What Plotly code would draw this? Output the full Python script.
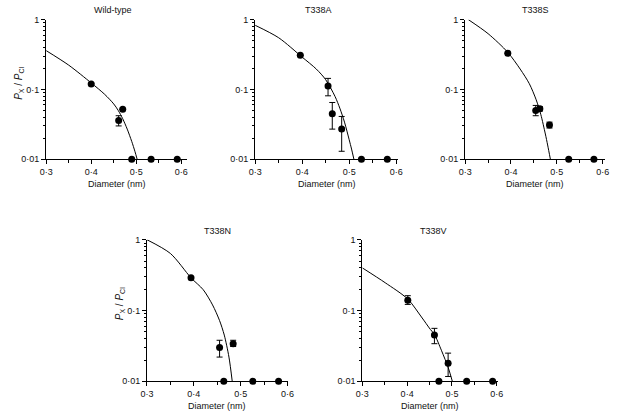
import plotly.graph_objects as go

# ---------------- data ----------------
titles = ["Wild-type", "T338A", "T338S", "T338N", "T338V"]

wt_x = [0.400, 0.461, 0.470, 0.490, 0.533, 0.591]
wt_y = [0.12, 0.036, 0.052, 0.01, 0.01, 0.01]
wt_ep = [0, 0.006, 0, 0, 0, 0]
wt_em = [0, 0.006, 0, 0, 0, 0]
wt_fit_x = [0.30, 0.35, 0.40, 0.43, 0.45, 0.46, 0.47, 0.48, 0.49, 0.497, 0.502]
wt_fit_y = [0.36, 0.223, 0.124, 0.085, 0.062, 0.050, 0.038, 0.027, 0.018, 0.013, 0.01]

a_x = [0.396, 0.455, 0.464, 0.484, 0.526, 0.581]
a_y = [0.31, 0.112, 0.045, 0.027, 0.01, 0.01]
a_ep = [0, 0.032, 0.020, 0.014, 0, 0]
a_em = [0, 0.031, 0.018, 0.014, 0, 0]
a_fit_x = [0.30, 0.35, 0.40, 0.43, 0.45, 0.47, 0.48, 0.49, 0.50, 0.505, 0.510]
a_fit_y = [0.83, 0.55, 0.29, 0.196, 0.138, 0.079, 0.054, 0.034, 0.019, 0.014, 0.01]

s_x = [0.393, 0.454, 0.463, 0.484, 0.526, 0.581]
s_y = [0.33, 0.05, 0.053, 0.031, 0.01, 0.01]
s_ep = [0, 0.009, 0.004, 0.003, 0, 0]
s_em = [0, 0.008, 0.004, 0.003, 0, 0]
s_fit_x = [0.307, 0.35, 0.393, 0.42, 0.44, 0.455, 0.465, 0.475, 0.48, 0.486]
s_fit_y = [1.0, 0.63, 0.34, 0.196, 0.121, 0.071, 0.044, 0.023, 0.016, 0.01]

n_x = [0.394, 0.455, 0.464, 0.484, 0.526, 0.581]
n_y = [0.29, 0.030, 0.01, 0.034, 0.01, 0.01]
n_ep = [0, 0.008, 0, 0.004, 0, 0]
n_em = [0, 0.008, 0, 0.003, 0, 0]
n_fit_x = [0.30, 0.35, 0.394, 0.42, 0.44, 0.455, 0.465, 0.475, 0.482]
n_fit_y = [1.0, 0.64, 0.29, 0.197, 0.12, 0.072, 0.045, 0.022, 0.01]

v_x = [0.4015, 0.461, 0.471, 0.4916, 0.533, 0.591]
v_y = [0.14, 0.045, 0.01, 0.018, 0.01, 0.01]
v_ep = [0.022, 0.011, 0, 0.007, 0, 0]
v_em = [0.018, 0.011, 0, 0.0063, 0, 0]
v_fit_x = [0.30, 0.351, 0.4015, 0.432, 0.452, 0.461, 0.477, 0.492, 0.501]
v_fit_y = [0.40, 0.247, 0.145, 0.081, 0.054, 0.046, 0.027, 0.0155, 0.01]

x_tickvals = [0.3, 0.4, 0.5, 0.6]
x_ticktext = ["0·3", "0·4", "0·5", "0·6"]
y_tickvals = [0.01, 0.1, 1]
y_ticktext = ["0·01", "0·1", "1"]

# ---------------- layout geometry (pixels) ----------------
W, H = 618, 419
panels = [
    # (x0, x1, y0, y1, xmax)
    (40, 184, 15, 158, 0.613),
    (253.5, 399.5, 15, 158, 0.604),
    (468, 611, 15, 158, 0.6055),
    (143, 287, 240.5, 385.5, 0.601),
    (363, 502, 240.5, 385.5, 0.604),
]
title_pos = [(108, 5), (318, 5), (540, 5), (215, 232), (436, 232)]

datasets = [
    (wt_x, wt_y, wt_ep, wt_em, wt_fit_x, wt_fit_y),
    (a_x, a_y, a_ep, a_em, a_fit_x, a_fit_y),
    (s_x, s_y, s_ep, s_em, s_fit_x, s_fit_y),
    (n_x, n_y, n_ep, n_em, n_fit_x, n_fit_y),
    (v_x, v_y, v_ep, v_em, v_fit_x, v_fit_y),
]

FONT = "Liberation Sans, Arial, Helvetica, sans-serif"
fig = go.Figure()

minor_y = [k * 0.01 for k in range(2, 10)] + [k * 0.1 for k in range(2, 10)]

annotations = []
for i, ((x0, x1, y0, y1, xmax), (px, py, ep, em, fx, fy)) in enumerate(zip(panels, datasets)):
    n = i + 1
    xa = "x" if n == 1 else f"x{n}"
    ya = "y" if n == 1 else f"y{n}"
    fig.add_trace(go.Scatter(
        x=fx, y=fy, mode="lines",
        line=dict(color="black", width=1, shape="spline", smoothing=0.8),
        xaxis=xa, yaxis=ya, showlegend=False, hoverinfo="skip"))
    fig.add_trace(go.Scatter(
        x=px, y=py, mode="markers",
        marker=dict(color="black", size=7),
        error_y=dict(type="data", array=ep, arrayminus=em, symmetric=False,
                     color="black", thickness=1, width=3),
        xaxis=xa, yaxis=ya, showlegend=False, cliponaxis=False))
    xkey = "xaxis" if n == 1 else f"xaxis{n}"
    ykey = "yaxis" if n == 1 else f"yaxis{n}"
    fig.update_layout(**{
        xkey: dict(
            domain=[x0 / W, x1 / W], anchor=ya, range=[0.3, xmax],
            showgrid=False, zeroline=False, showline=True, linecolor="black", linewidth=1,
            ticks="outside", ticklen=4, tickwidth=1, tickcolor="black",
            tickvals=x_tickvals, ticktext=x_ticktext,
            tickfont=dict(family=FONT, size=9, color="#111"),
            minor=dict(tickvals=[0.35, 0.45, 0.55], ticks="outside", ticklen=3,
                       tickcolor="black", tickwidth=1),
        ),
        ykey: dict(
            domain=[1 - y1 / H, 1 - y0 / H], anchor=xa, type="log", range=[-2, 0],
            showgrid=False, zeroline=False, showline=True, linecolor="black", linewidth=1,
            ticks="outside", ticklen=4, tickwidth=1, tickcolor="black",
            tickvals=y_tickvals, ticktext=y_ticktext,
            tickfont=dict(family=FONT, size=9, color="#111"),
            minor=dict(tickvals=minor_y, ticks="outside", ticklen=2,
                       tickcolor="black", tickwidth=1),
        ),
    })
    tx, ty = title_pos[i]
    annotations.append(dict(
        text=titles[i], x=tx / W, y=1 - ty / H, xref="paper", yref="paper",
        xanchor="center", yanchor="middle", showarrow=False,
        font=dict(family=FONT, size=9, color="#111")))
    annotations.append(dict(
        text="Diameter (nm)", x=((x0 + x1) / 2) / W, y=1 - (y1 + 25) / H,
        xref="paper", yref="paper", xanchor="center", yanchor="middle",
        showarrow=False, font=dict(family=FONT, size=9, color="#111")))

for (yx, yy) in [(12, 80), (115, 306)]:
    annotations.append(dict(
        text="<i>P</i><sub>X</sub> / <i>P</i><sub>Cl</sub>",
        x=yx / W, y=1 - yy / H, xref="paper", yref="paper",
        xanchor="center", yanchor="middle", textangle=-90, showarrow=False,
        font=dict(family=FONT, size=10, color="#111")))

fig.update_layout(
    width=W, height=H, margin=dict(l=0, r=0, t=0, b=0),
    paper_bgcolor="white", plot_bgcolor="white",
    annotations=annotations, showlegend=False,
)

fig.write_html("out.html",
               config={"displayModeBar": False},
               post_script="document.body.style.margin='0';document.body.style.overflow='hidden';")
